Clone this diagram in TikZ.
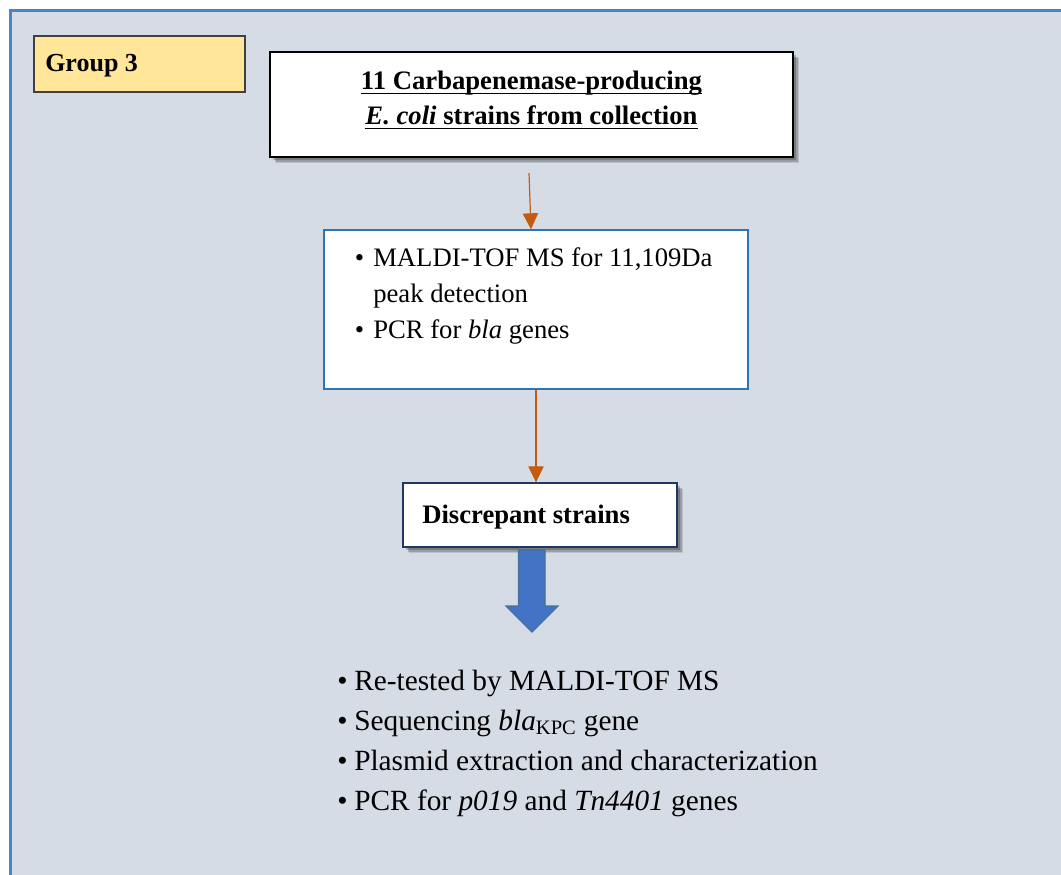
\documentclass[tikz,border=0pt]{standalone}
\usepackage{fontspec}
\setmainfont{Liberation Serif}
\usetikzlibrary{shadows,arrows.meta,calc}
\definecolor{panelfill}{HTML}{D6DCE5}
\definecolor{paneledge}{HTML}{4A86C5}
\definecolor{groupfill}{HTML}{FFE699}
\definecolor{midedge}{HTML}{2E75B6}
\definecolor{discedge}{HTML}{1F3864}
\definecolor{flowcol}{HTML}{C55A11}
\definecolor{bigfill}{HTML}{4472C4}
\definecolor{bigedge}{HTML}{41719C}
\begin{document}
\begin{tikzpicture}[x=0.75pt,y=-0.75pt,
  box/.style={draw, fill=white, inner sep=0pt, line width=1pt},
  shadowed/.style={
    drop shadow={shadow xshift=4.5pt,shadow yshift=-4.5pt,opacity=0.12,fill=black},
    drop shadow={shadow xshift=3.5pt,shadow yshift=-3.5pt,opacity=0.18,fill=black},
    drop shadow={shadow xshift=2.5pt,shadow yshift=-2.5pt,opacity=0.22,fill=black}},
  flow/.style={draw=flowcol, line width=0.9pt, -{Triangle[width=11.5pt,length=12pt]}},
  txt/.style={inner sep=0pt, anchor=base west, font=\fontsize{20}{24}\selectfont},
  ctxt/.style={inner sep=0pt, anchor=base, font=\fontsize{20}{24}\selectfont\bfseries},
  btxt/.style={inner sep=0pt, anchor=base west, font=\fontsize{22}{30}\selectfont},
  uline/.style={line width=1.4pt}]
\useasboundingbox (0,0) rectangle (1061,875);
\fill[white] (0,0) rectangle (1061,875);
% panel
\draw[fill=panelfill, draw=paneledge, line width=2.2pt] (10.5,10.5) rectangle (1075,890);
% group label
\node[box, fill=groupfill, draw=black!75, line width=0.8pt, minimum width=158.25pt, minimum height=42pt] (grp) at (139.5,64) {};
\node[txt, font=\fontsize{19.5}{24}\selectfont\bfseries] (grpt) at (45,71) {Group 3};
% top box
\node[box, shadowed, draw=black, minimum width=392.25pt, minimum height=78.75pt] (top) at (531.5,104.5) {};
\node[ctxt] (t1) at (531.5,89) {11 Carbapenemase-producing};
\node[ctxt] (t2) at (531.5,124) {\textit{E. coli} strains from collection};
\draw[uline] ($(t1.base west)+(0,4.5)$) -- ($(t1.base east)+(0,4.5)$);
\draw[uline] ($(t2.base west)+(0,4.5)$) -- ($(t2.base east)+(0,4.5)$);
% middle box
\node[box, draw=midedge, minimum width=318pt, minimum height=119.25pt] (mid) at (536,309.5) {};
\node[txt] (m1) at (354.5,266) {\makebox[13.9pt][l]{•}MALDI-TOF MS for 11,109Da};
\node[txt] (m2) at (373,302) {peak detection};
\node[txt] (m3) at (354.5,338) {\makebox[13.9pt][l]{•}PCR for \textit{bla} genes};
% discrepant box
\node[box, shadowed, draw=discedge, minimum width=205.5pt, minimum height=48pt] (disc) at (540,515) {};
\node[txt, font=\fontsize{20}{24}\selectfont\bfseries] (disct) at (422,523) {Discrepant strains};
% connectors
\coordinate (a1) at (529,173);
\draw[flow] (a1) -- ($(mid.north)+(-5,0)$);
\draw[flow] (mid.south) -- (mid.south |- disc.north);
% big arrow
\draw[fill=bigfill, draw=bigedge, line width=0.8pt] (518.5,550) -- (545,550) -- (545,606) -- (558,606) -- (532,632) -- (506,606) -- (518.5,606) -- cycle;
% bottom list
\node[btxt] (b1) at (337,690) {\makebox[12.75pt][l]{•}Re-tested by MALDI-TOF MS};
\node[btxt] (b2) at (337,730) {\makebox[12.75pt][l]{•}Sequencing \textit{bla}\textsubscript{KPC} gene};
\node[btxt] (b3) at (337,770) {\makebox[12.75pt][l]{•}Plasmid extraction and characterization};
\node[btxt] (b4) at (337,810) {\makebox[12.75pt][l]{•}PCR for \textit{p019} and \textit{Tn4401} genes};
\end{tikzpicture}
\end{document}
